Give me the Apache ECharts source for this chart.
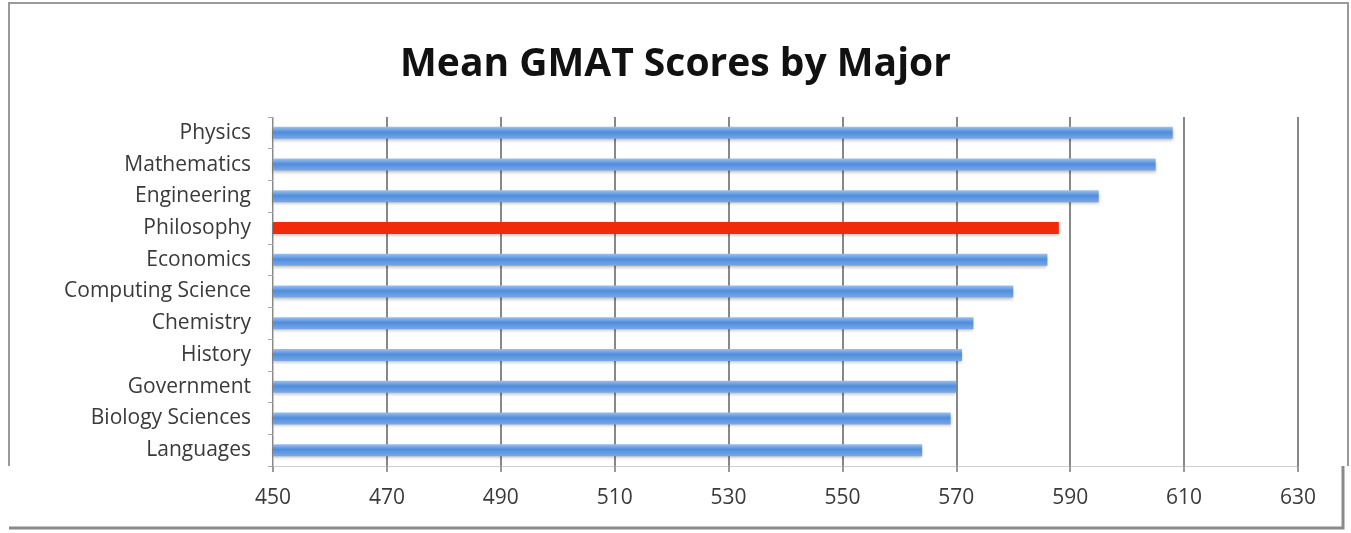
<!DOCTYPE html>
<html>
<head>
<meta charset="utf-8">
<script src="https://cdn.jsdelivr.net/npm/echarts@6/dist/echarts.min.js"></script>
<style>
  html, body { margin: 0; padding: 0; background: #fff; }
  #main { width: 1351px; height: 533px; }
</style>
</head>
<body>
<div id="main"></div>
<script>
// majors, top to bottom
var majors = ['Physics', 'Mathematics', 'Engineering', 'Philosophy', 'Economics',
  'Computing Science', 'Chemistry', 'History', 'Government', 'Biology Sciences', 'Languages'];
var scores = [608, 605, 595, 588, 586, 580, 573, 571, 570, 569, 564];
var highlight = 'Philosophy';
var xTicks = [450, 470, 490, 510, 530, 550, 570, 590, 610, 630];

var blueBar = {
  type: 'linear', x: 0, y: 0, x2: 0, y2: 1,
  colorStops: [
    { offset: 0, color: '#9cc0ee' },
    { offset: 0.45, color: '#4f8ddc' },
    { offset: 1, color: '#7aa8e6' }
  ]
};

var chart = echarts.init(document.getElementById('main'));

var option = {
  animation: false,
  backgroundColor: '#fff',
  title: {
    text: 'Mean GMAT Scores by Major',
    left: 'center',
    top: 40,
    textStyle: {
      fontFamily: 'Open Sans',
      fontWeight: 'bold',
      fontSize: 39,
      color: '#111'
    }
  },
  grid: {
    left: 273,
    right: 53,
    top: 117,
    bottom: 67
  },
  xAxis: {
    type: 'value',
    min: xTicks[0],
    max: xTicks[xTicks.length - 1],
    interval: 20,
    axisLine: { show: true, lineStyle: { color: '#d0d0d0', width: 1 } },
    axisTick: { show: true, length: 6, lineStyle: { color: '#999', width: 2 } },
    axisLabel: {
      margin: 22,
      fontFamily: 'Open Sans',
      fontSize: 21,
      color: '#3a3a3a'
    },
    splitLine: { show: true, lineStyle: { color: '#888', width: 2 } }
  },
  yAxis: {
    type: 'category',
    inverse: true,
    data: majors,
    axisLine: { show: true, lineStyle: { color: '#c8c8c8', width: 1 } },
    axisTick: { show: true, length: 5, lineStyle: { color: '#aaa' } },
    axisLabel: {
      margin: 22,
      fontFamily: 'Open Sans',
      fontSize: 21,
      color: '#3a3a3a'
    }
  },
  series: [{
    type: 'bar',
    barWidth: 12,
    data: scores.map(function (v, i) {
      return {
        value: v,
        itemStyle: majors[i] === highlight
          ? { color: '#f02a0a' }
          : { color: blueBar }
      };
    }),
    itemStyle: {
      shadowColor: 'rgba(0,0,0,0.25)',
      shadowBlur: 3,
      shadowOffsetY: 2
    }
  }],
  graphic: [
    // outer frame (screenshot border)
    { type: 'polyline', silent: true, shape: { points: [[9, 466], [9, 3], [1348, 3], [1348, 466]] },
      style: { stroke: '#9a9a9a', lineWidth: 2, fill: null } },
    { type: 'polyline', silent: true, shape: { points: [[1343, 466], [1343, 528], [9, 528]] },
      style: { stroke: '#8a8a8a', lineWidth: 3, fill: null } }
  ]
};

chart.setOption(option);
</script>
</body>
</html>
